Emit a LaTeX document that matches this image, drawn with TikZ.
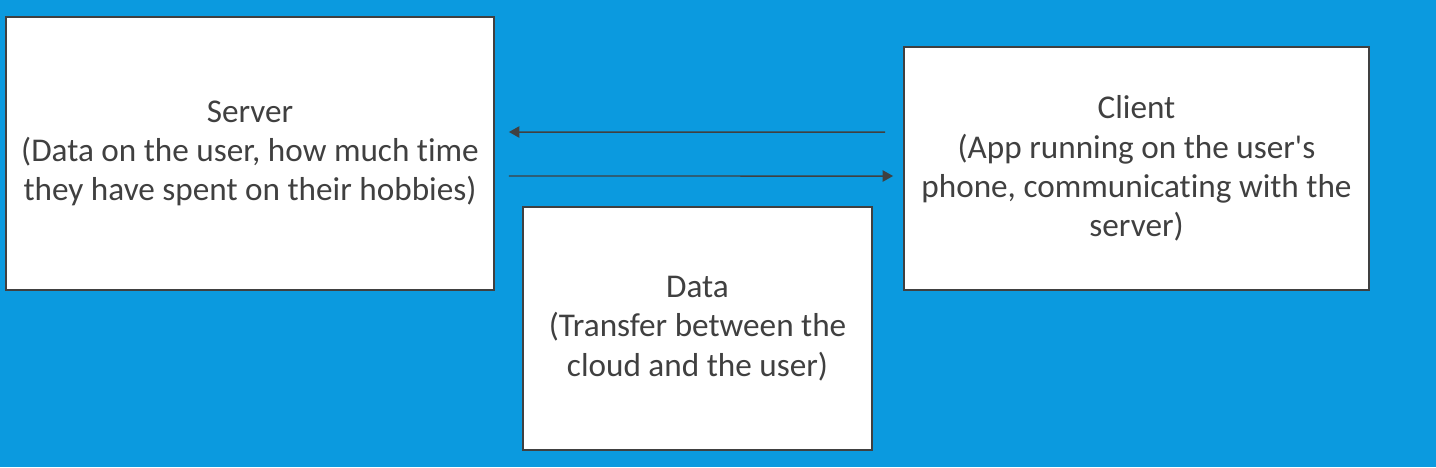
\documentclass[tikz,border=0pt]{standalone}
\usepackage{fontspec}
\setmainfont{Carlito}[Ligatures={TeXOff,NoCommon}]
\usetikzlibrary{arrows.meta}
\definecolor{bgblue}{HTML}{0B9ADF}
\definecolor{inkgray}{HTML}{404040}
\begin{document}
\begin{tikzpicture}
          [x=0.02cm, y=-0.02cm, every node/.style={draw=inkgray,fill=white,line width=1.1pt,text=inkgray,align=center,inner sep=0,font=\fontsize{18.9}{22.3}\selectfont}, every draw/.style={line width=0.85pt, inkgray}]

          \fill[bgblue] (0,0) rectangle (1436,467);
          \useasboundingbox (0,0) rectangle (1436,467);

          \node[minimum width=9.76cm, minimum height=5.46cm] (server) at (250, 153.5) {Server\\(Data on the user, how much time\\they have spent on their hobbies)};
          \node[minimum width=9.3cm, minimum height=4.86cm] (client) at (1136.5, 168.5) {Client\\(App running on the user's\\phone, communicating with the\\server)};
          \node[minimum width=6.98cm, minimum height=4.86cm] (data) at (697.5, 328.5) {Data\\(Transfer between the\\cloud and the user)};

          \draw[-{Triangle[length=6pt,width=6.5pt]}, line width=0.85pt, inkgray] ([xshift=-0.36cm,yshift=0.73cm]client.west) -- ([xshift=0.28cm,yshift=0.43cm]server.east);
          \draw[-{Triangle[length=6pt,width=6.5pt]}, line width=0.85pt, inkgray] ([xshift=0.28cm,yshift=-0.45cm]server.east) -- ([xshift=-0.2cm,yshift=-0.15cm]client.west);

        \end{tikzpicture}
\end{document}
